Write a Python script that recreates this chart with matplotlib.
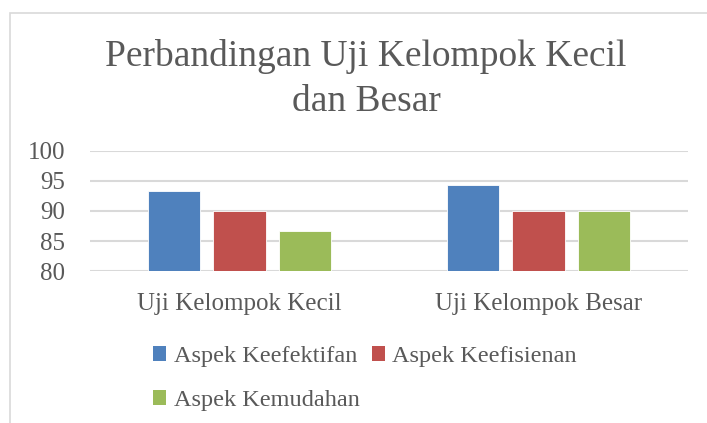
import matplotlib.pyplot as plt
from matplotlib.patches import Patch, Rectangle
import numpy as np

# Data
categories = ["Uji Kelompok Kecil", "Uji Kelompok Besar"]
series_names = ["Aspek Keefektifan", "Aspek Keefisienan", "Aspek Kemudahan"]
keefektifan = [93.3, 94.4]
keefisienan = [90.0, 90.0]
kemudahan = [86.7, 90.0]
y_ticks = [80, 85, 90, 95, 100]

colors = ["#4F81BD", "#C0504D", "#9BBB59"]
text_color = "#595959"
font = "Liberation Serif"


def main():
    plt.rcParams["font.family"] = font
    fig = plt.figure(figsize=(7.07, 4.23), dpi=100)

    # outer chart frame
    fig.patches.append(Rectangle((10 / 707, -0.1), 1.0, 1.1 - 13 / 423,
                                 transform=fig.transFigure, fill=False,
                                 edgecolor="#D9D9D9", linewidth=1.2))

    ax = fig.add_axes([90 / 707, 1 - 271 / 423, 598 / 707, 120 / 423])

    x = np.arange(len(categories))
    step = 0.22
    width = 0.174
    all_values = [keefektifan, keefisienan, kemudahan]
    for i, values in enumerate(all_values):
        ax.bar(x + (i - 1) * step, np.array(values) - 80, width=width, bottom=80,
               color=colors[i], edgecolor="white", linewidth=0.6, zorder=3)

    ax.set_xlim(-0.5, 1.5)
    ax.set_ylim(80, 100)
    ax.set_yticks(y_ticks)
    ax.set_xticks(x)
    ax.set_xticklabels(categories)
    ax.grid(axis="y", color="#D9D9D9", linewidth=1.5, zorder=0)
    ax.set_axisbelow(True)
    for s in ax.spines.values():
        s.set_visible(False)
    ax.tick_params(axis="both", length=0, labelcolor=text_color, labelsize=18)
    ax.tick_params(axis="y", pad=18)
    ax.tick_params(axis="x", pad=16)

    fig.text(366 / 707, 1 - 39 / 423, "Perbandingan Uji Kelompok Kecil\ndan Besar",
             ha="center", va="top", fontsize=27, color=text_color, linespacing=1.4)

    handles = [Patch(facecolor=c) for c in colors]
    order = [0, 2, 1]
    fig.legend([handles[i] for i in order], [series_names[i] for i in order],
               ncol=2, loc="upper left", bbox_to_anchor=(153 / 707, 1 - 346 / 423),
               frameon=False, fontsize=17.5, labelcolor=text_color,
               handlelength=0.55, handleheight=0.55, handletextpad=0.3,
               columnspacing=0.5, labelspacing=0.95, borderpad=0,
               borderaxespad=0)

    fig.savefig("out.png", dpi=100)


if __name__ == "__main__":
    main()
